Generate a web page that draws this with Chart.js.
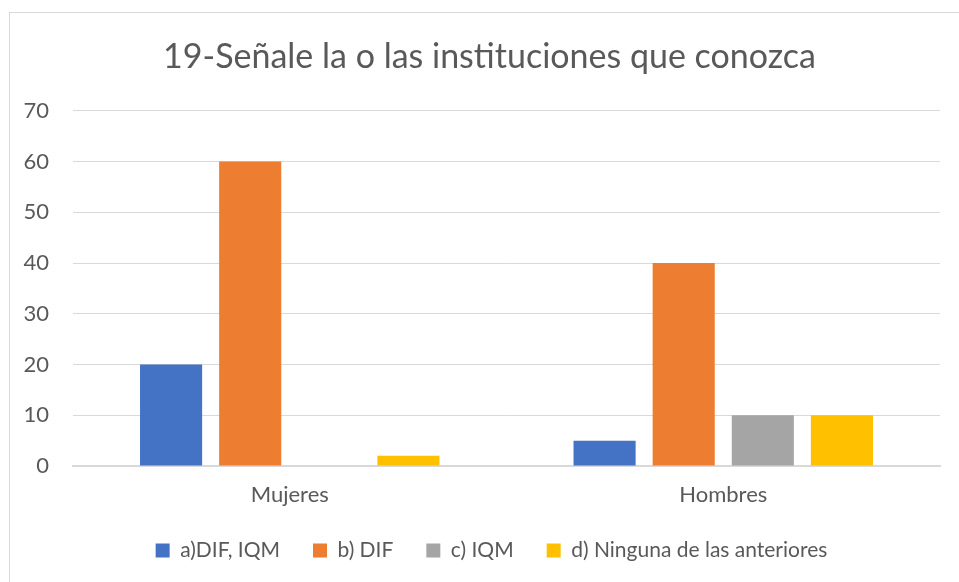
<!DOCTYPE html>
<html><head><meta charset="utf-8">
<script src="https://cdn.jsdelivr.net/npm/chart.js@4"></script>
<style>
html,body{margin:0;padding:0;background:#fff;}
#wrap{position:absolute;left:0;top:0;width:959px;height:582px;overflow:hidden;}
#frame{position:absolute;left:9px;top:12px;width:955px;height:575px;border:1px solid #d9d9d9;box-sizing:border-box;}
</style></head><body>
<div id="wrap"><div id="frame"></div><canvas id="c" width="959" height="582"></canvas></div>
<script>
const categories = ["Mujeres", "Hombres"];
const seriesNames = ["a)DIF, IQM", "b) DIF", "c) IQM", "d) Ninguna de las anteriores"];
const serieA = [20, 5];
const serieB = [60, 40];
const serieC = [0, 10];
const serieD = [2, 10];
const colors = ["#4472C4", "#ED7D31", "#A5A5A5", "#FFC000"];
const yTicks = [0, 10, 20, 30, 40, 50, 60, 70];
const titleText = "19-Señale la o las instituciones que conozca";

const values = [serieA, serieB, serieC, serieD];
const FONT = "Lato, 'Open Sans', sans-serif";

// shift the title and legend blocks so they are centred like the reference
const shiftBlocks = {
  id: 'shiftBlocks',
  afterLayout(chart) {
    const t = chart.titleBlock;
    if (t) { t.left += 19; t.right += 19; }
    const l = chart.legend;
    if (l) { l.left += 21; l.right += 21; }
  }
};

new Chart(document.getElementById('c'), {
  type: 'bar',
  data: {
    labels: categories,
    datasets: values.map((v, i) => ({
      label: seriesNames[i], data: v, backgroundColor: colors[i],
      borderWidth: 0,
      categoryPercentage: 0.73, barPercentage: 0.785
    }))
  },
  plugins: [shiftBlocks],
  options: {
    responsive: false, animation: false,
    layout: { padding: { left: 1, right: 19, top: 37, bottom: 11 } },
    plugins: {
      title: { display: true, text: titleText, color: '#595959',
        font: { family: FONT, size: 34, weight: 'normal' }, padding: { top: 0, bottom: 33 } },
      legend: { position: 'bottom', labels: { color: '#595959', boxWidth: 14, boxHeight: 14,
        font: { family: FONT, size: 21 }, padding: 33 } },
      tooltip: { enabled: false }
    },
    scales: {
      x: { grid: { display: false, drawTicks: false }, border: { color: '#d9d9d9', width: 2 },
        ticks: { color: '#595959', font: { family: FONT, size: 22 }, padding: 16 },
        afterFit: s => { s.height = 41; } },
      y: { min: 0, max: 70, afterBuildTicks: s => { s.ticks = yTicks.map(v => ({ value: v })); },
        grid: { color: '#d9d9d9', drawTicks: false }, border: { display: false },
        ticks: { color: '#595959', font: { family: FONT, size: 22 }, padding: 24 },
        afterFit: s => { s.width = 72; } }
    }
  }
});
</script></body></html>
